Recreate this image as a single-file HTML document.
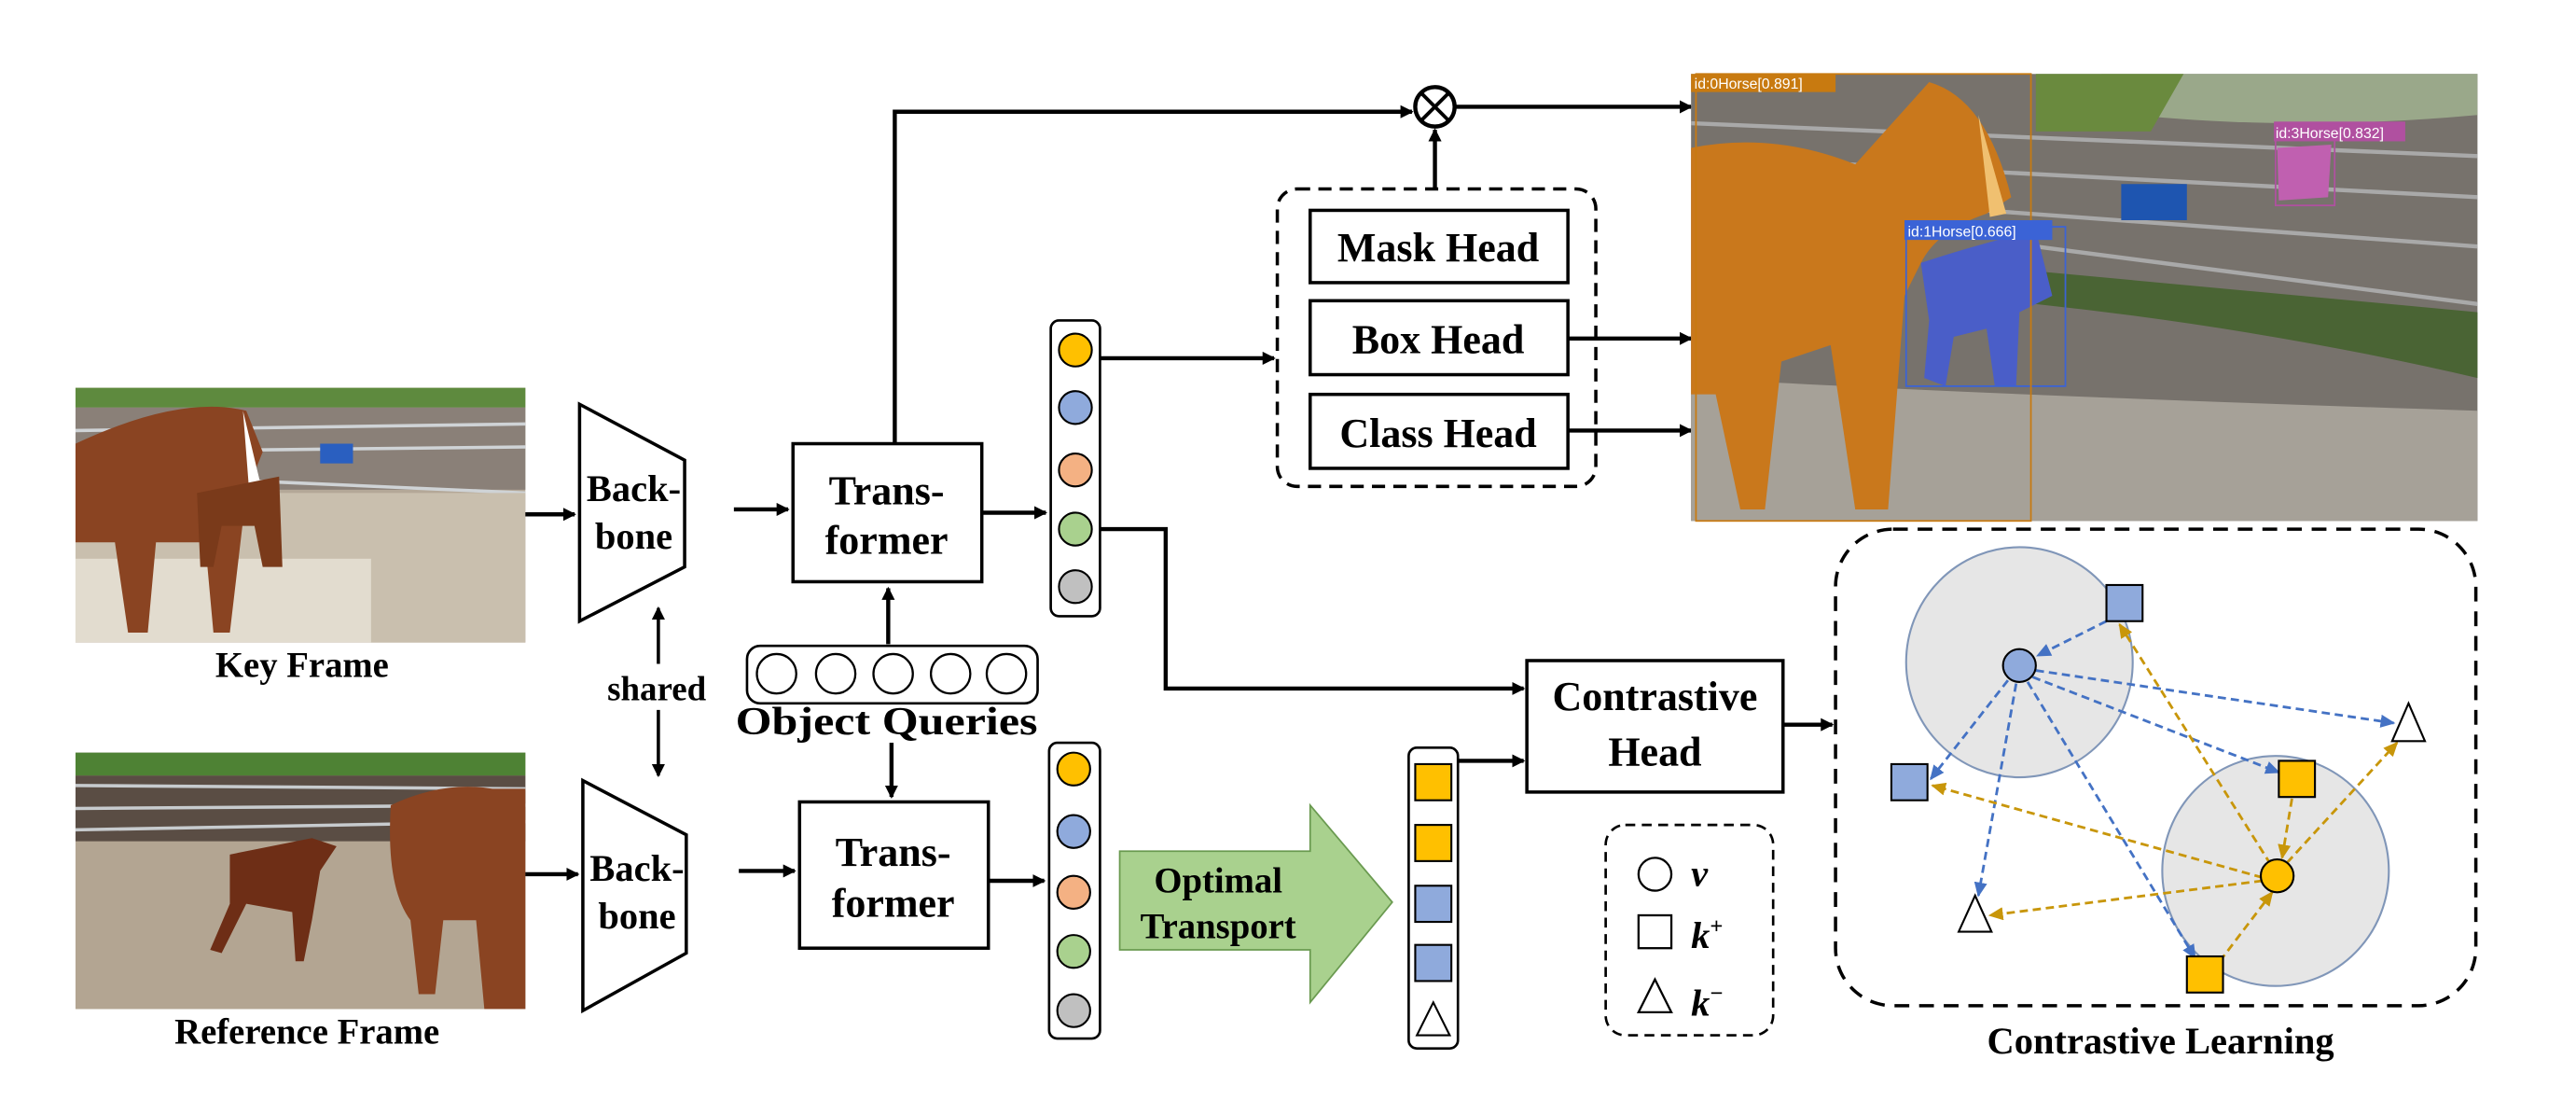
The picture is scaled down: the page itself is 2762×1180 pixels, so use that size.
<!DOCTYPE html>
<html><head><meta charset="utf-8"><style>
html,body{margin:0;padding:0;background:#fff;}
svg{display:block;}
text{font-family:"Liberation Serif",serif;font-weight:bold;fill:#000;}
</style></head><body>
<svg width="2762" height="1180" viewBox="0 0 1569 670" preserveAspectRatio="none" xmlns="http://www.w3.org/2000/svg">
<defs>
<marker id="ah" markerWidth="8" markerHeight="8" refX="7" refY="4" orient="auto" markerUnits="userSpaceOnUse"><path d="M0,0 L8,4 L0,8 Z" fill="#000"/></marker>
<marker id="bh" markerWidth="9" markerHeight="8" refX="8" refY="4" orient="auto" markerUnits="userSpaceOnUse"><path d="M0,0 L9,4 L0,8 Z" fill="#4472c4"/></marker>
<marker id="oh" markerWidth="9" markerHeight="8" refX="8" refY="4" orient="auto" markerUnits="userSpaceOnUse"><path d="M0,0 L9,4 L0,8 Z" fill="#c8960a"/></marker>
</defs>

<!-- Key frame photo -->
<g>
<rect x="46" y="236" width="274" height="155" fill="#b4a898"/>
<rect x="46" y="236" width="274" height="12" fill="#5e8a3e"/>
<rect x="46" y="248" width="274" height="50" fill="#8a8078"/>
<g stroke="#cfd3d6" stroke-width="2"><line x1="46" y1="262" x2="320" y2="258"/><line x1="46" y1="275" x2="320" y2="272"/><line x1="46" y1="288" x2="320" y2="300"/></g>
<rect x="46" y="300" width="274" height="91" fill="#c9bfae"/>
<rect x="46" y="340" width="180" height="51" fill="#e2dccf"/>
<rect x="195" y="270" width="20" height="12" fill="#2a5fc0"/>
<path d="M46,270 Q110,240 150,250 L160,275 L150,300 L140,385 L130,385 L125,330 L95,330 L90,385 L78,385 L70,330 L46,330 Z" fill="#8a4422"/>
<path d="M148,250 L160,300 L152,302 Z" fill="#fff"/>
<path d="M120,300 L170,290 L172,345 L160,345 L155,320 L135,320 L130,345 L122,345 Z" fill="#7a3a1a"/>
</g>
<text x="184" y="412" font-size="22" text-anchor="middle">Key Frame</text>

<!-- Reference frame photo -->
<g>
<rect x="46" y="458" width="274" height="156" fill="#a79a88"/>
<rect x="46" y="458" width="274" height="14" fill="#4e8234"/>
<rect x="46" y="472" width="274" height="40" fill="#5a4d44"/>
<g stroke="#c7cbce" stroke-width="2"><line x1="46" y1="478" x2="320" y2="480"/><line x1="46" y1="492" x2="320" y2="490"/><line x1="46" y1="505" x2="320" y2="500"/></g>
<rect x="46" y="512" width="274" height="102" fill="#b3a592"/>
<path d="M238,490 Q270,475 300,480 L320,480 L320,614 L295,614 L290,560 L270,560 L265,605 L255,605 L250,560 Q235,540 238,490 Z" fill="#8a4422"/>
<path d="M140,520 L190,510 L205,515 L195,530 L190,560 L185,585 L180,585 L178,555 L150,550 L135,580 L128,578 L140,550 Z" fill="#6e2e16"/>
</g>
<text x="187" y="635" font-size="22" text-anchor="middle">Reference Frame</text>

<!-- Backbones -->
<path d="M353,246 L417,280 L417,345 L353,378 Z" fill="#fff" stroke="#000" stroke-width="2"/>
<text x="386" y="305" font-size="23" text-anchor="middle">Back-</text>
<text x="386" y="334" font-size="23" text-anchor="middle">bone</text>
<path d="M355,475 L418,508 L418,580 L355,615 Z" fill="#fff" stroke="#000" stroke-width="2"/>
<text x="388" y="536" font-size="23" text-anchor="middle">Back-</text>
<text x="388" y="565" font-size="23" text-anchor="middle">bone</text>
<text x="400" y="426" font-size="21" text-anchor="middle">shared</text>
<line x1="401" y1="404" x2="401" y2="370" stroke="#000" stroke-width="2" marker-end="url(#ah)"/>
<line x1="401" y1="432" x2="401" y2="472" stroke="#000" stroke-width="2" marker-end="url(#ah)"/>

<line x1="320" y1="313" x2="350" y2="313" stroke="#000" stroke-width="2.5" marker-end="url(#ah)"/>
<line x1="320" y1="532" x2="352" y2="532" stroke="#000" stroke-width="2.5" marker-end="url(#ah)"/>
<line x1="447" y1="310" x2="480" y2="310" stroke="#000" stroke-width="2.5" marker-end="url(#ah)"/>
<line x1="450" y1="530" x2="484" y2="530" stroke="#000" stroke-width="2.5" marker-end="url(#ah)"/>

<!-- Transformers -->
<rect x="483" y="270" width="115" height="84" fill="#fff" stroke="#000" stroke-width="2"/>
<text x="540" y="307" font-size="25" text-anchor="middle">Trans-</text>
<text x="540" y="337" font-size="25" text-anchor="middle">former</text>
<rect x="487" y="488" width="115" height="89" fill="#fff" stroke="#000" stroke-width="2"/>
<text x="544" y="527" font-size="25" text-anchor="middle">Trans-</text>
<text x="544" y="558" font-size="25" text-anchor="middle">former</text>

<!-- object queries -->
<rect x="455" y="393" width="177" height="35" rx="8" fill="#fff" stroke="#000" stroke-width="1.5"/>
<g fill="#fff" stroke="#000" stroke-width="1.3">
<circle cx="473" cy="410" r="12"/><circle cx="509" cy="410" r="12"/><circle cx="544" cy="410" r="12"/><circle cx="579" cy="410" r="12"/><circle cx="613" cy="410" r="12"/></g>
<text x="540" y="447" font-size="24" text-anchor="middle" textLength="184" lengthAdjust="spacingAndGlyphs">Object Queries</text>
<line x1="541" y1="392" x2="541" y2="358" stroke="#000" stroke-width="2.5" marker-end="url(#ah)"/>
<line x1="543" y1="452" x2="543" y2="485" stroke="#000" stroke-width="2.5" marker-end="url(#ah)"/>

<!-- columns -->
<line x1="598" y1="312" x2="637" y2="312" stroke="#000" stroke-width="2.5" marker-end="url(#ah)"/>
<line x1="602" y1="536" x2="636" y2="536" stroke="#000" stroke-width="2.5" marker-end="url(#ah)"/>
<rect x="640" y="195" width="30" height="180" rx="5" fill="#fff" stroke="#000" stroke-width="1.5"/>
<g stroke="#000" stroke-width="1.2">
<circle cx="655" cy="213" r="10" fill="#ffc000"/><circle cx="655" cy="248" r="10" fill="#8faadc"/><circle cx="655" cy="286" r="10" fill="#f4b183"/><circle cx="655" cy="322" r="10" fill="#a9d18e"/><circle cx="655" cy="357" r="10" fill="#c0c0c0"/></g>
<rect x="639" y="452" width="31" height="180" rx="5" fill="#fff" stroke="#000" stroke-width="1.5"/>
<g stroke="#000" stroke-width="1.2">
<circle cx="654" cy="468" r="10" fill="#ffc000"/><circle cx="654" cy="506" r="10" fill="#8faadc"/><circle cx="654" cy="543" r="10" fill="#f4b183"/><circle cx="654" cy="579" r="10" fill="#a9d18e"/><circle cx="654" cy="615" r="10" fill="#c0c0c0"/></g>

<!-- top path -->
<polyline points="545,270 545,68 860,68" fill="none" stroke="#000" stroke-width="2.5" marker-end="url(#ah)"/>
<circle cx="874" cy="65" r="12" fill="#fff" stroke="#000" stroke-width="2.5"/>
<line x1="866" y1="57" x2="882" y2="73" stroke="#000" stroke-width="2.2"/><line x1="882" y1="57" x2="866" y2="73" stroke="#000" stroke-width="2.2"/>
<line x1="886" y1="65" x2="1030" y2="65" stroke="#000" stroke-width="2.5" marker-end="url(#ah)"/>
<line x1="874" y1="115" x2="874" y2="79" stroke="#000" stroke-width="2.5" marker-end="url(#ah)"/>

<!-- heads -->
<rect x="778" y="115" width="194" height="181" rx="12" fill="none" stroke="#000" stroke-width="2" stroke-dasharray="8,5"/>
<rect x="798" y="128" width="157" height="44" fill="#fff" stroke="#000" stroke-width="2"/>
<text x="876" y="159" font-size="25" text-anchor="middle">Mask Head</text>
<rect x="798" y="183" width="157" height="45" fill="#fff" stroke="#000" stroke-width="2"/>
<text x="876" y="215" font-size="25" text-anchor="middle">Box Head</text>
<rect x="798" y="240" width="157" height="45" fill="#fff" stroke="#000" stroke-width="2"/>
<text x="876" y="272" font-size="25" text-anchor="middle">Class Head</text>
<line x1="670" y1="218" x2="776" y2="218" stroke="#000" stroke-width="2.5" marker-end="url(#ah)"/>
<line x1="955" y1="206" x2="1030" y2="206" stroke="#000" stroke-width="2.5" marker-end="url(#ah)"/>
<line x1="955" y1="262" x2="1030" y2="262" stroke="#000" stroke-width="2.5" marker-end="url(#ah)"/>

<!-- detection image -->
<g>
<rect x="1030" y="45" width="479" height="272" fill="#77726c"/>
<path d="M1280,45 L1509,45 L1509,70 Q1400,80 1300,70 Z" fill="#9aa88a"/>
<path d="M1240,45 L1330,45 L1310,80 L1240,80 Z" fill="#6a8a3e"/>
<g stroke="#a9a9a9" stroke-width="2.5"><line x1="1030" y1="75" x2="1509" y2="95"/><line x1="1030" y1="95" x2="1509" y2="120"/><line x1="1030" y1="115" x2="1509" y2="150"/><line x1="1240" y1="150" x2="1509" y2="185"/></g>
<path d="M1240,165 L1509,190 L1509,230 Q1380,200 1240,185 Z" fill="#4a6434"/>
<path d="M1030,230 Q1200,240 1509,250 L1509,317 L1030,317 Z" fill="#a6a198"/>
<rect x="1292" y="112" width="40" height="22" fill="#1e55b0"/>
<path d="M1030,90 Q1080,80 1130,100 L1175,50 Q1210,60 1225,120 L1210,130 Q1180,140 1170,160 L1160,180 L1150,310 L1130,310 L1115,210 L1085,220 L1075,310 L1060,310 L1045,240 L1030,240 Z" fill="#c9781c"/>
<path d="M1205,70 L1222,130 L1212,132 Z" fill="#f0c070"/>
<path d="M1170,160 Q1200,150 1240,140 L1250,180 L1230,190 L1228,235 L1215,235 L1210,200 L1190,205 L1185,235 L1172,230 L1175,195 Z" fill="#4a5ec8"/>
<rect x="1161" y="138" width="97" height="97" fill="none" stroke="#3b63d6" stroke-width="1"/>
<rect x="1033" y="45" width="204" height="272" fill="none" stroke="#c87a10" stroke-width="1"/>
<path d="M1387,90 L1420,88 L1418,120 L1388,122 Z" fill="#c060b0"/>
<rect x="1386" y="83" width="36" height="42" fill="none" stroke="#b050a0" stroke-width="1"/>
<rect x="1030" y="45" width="88" height="11" fill="#c87a10"/>
<text x="1032" y="54" font-size="9" style="font-family:'Liberation Sans',sans-serif;font-weight:normal;fill:#fff">id:0Horse[0.891]</text>
<rect x="1160" y="134" width="90" height="12" fill="#3b63d6"/>
<text x="1162" y="144" font-size="9" style="font-family:'Liberation Sans',sans-serif;font-weight:normal;fill:#fff">id:1Horse[0.666]</text>
<rect x="1385" y="74" width="80" height="12" fill="#b050a0"/>
<text x="1386" y="84" font-size="9" style="font-family:'Liberation Sans',sans-serif;font-weight:normal;fill:#fff">id:3Horse[0.832]</text>
</g>

<!-- path to contrastive head -->
<polyline points="670,322 710,322 710,419 928,419" fill="none" stroke="#000" stroke-width="2.5" marker-end="url(#ah)"/>
<rect x="930" y="402" width="156" height="80" fill="#fff" stroke="#000" stroke-width="2"/>
<text x="1008" y="432" font-size="25" text-anchor="middle">Contrastive</text>
<text x="1008" y="466" font-size="25" text-anchor="middle">Head</text>
<line x1="888" y1="463" x2="928" y2="463" stroke="#000" stroke-width="2.5" marker-end="url(#ah)"/>
<line x1="1086" y1="441" x2="1116" y2="441" stroke="#000" stroke-width="2.5" marker-end="url(#ah)"/>

<!-- Optimal transport arrow -->
<path d="M682,518 L798,518 L798,490 L848,549 L798,610 L798,578 L682,578 Z" fill="#a9d18e" stroke="#6a9a50" stroke-width="1"/>
<text x="742" y="543" font-size="22" text-anchor="middle">Optimal</text>
<text x="742" y="571" font-size="22" text-anchor="middle">Transport</text>

<!-- small column -->
<rect x="858" y="455" width="30" height="183" rx="5" fill="#fff" stroke="#000" stroke-width="1.5"/>
<g stroke="#000" stroke-width="1.2">
<rect x="862" y="465" width="22" height="22" fill="#ffc000"/><rect x="862" y="502" width="22" height="22" fill="#ffc000"/>
<rect x="862" y="539" width="22" height="22" fill="#8faadc"/><rect x="862" y="575" width="22" height="22" fill="#8faadc"/>
<path d="M873,610 L883,630 L863,630 Z" fill="#fff"/></g>

<!-- legend -->
<rect x="978" y="502" width="102" height="128" rx="12" fill="none" stroke="#000" stroke-width="1.5" stroke-dasharray="6,4"/>
<circle cx="1008" cy="532" r="10" fill="#fff" stroke="#000" stroke-width="1.3"/>
<text x="1030" y="539" font-size="23" font-style="italic">v</text>
<rect x="998" y="557" width="20" height="20" fill="#fff" stroke="#000" stroke-width="1.3"/>
<text x="1030" y="577" font-size="23" font-style="italic">k<tspan font-size="14" dy="-9" font-style="normal">+</tspan></text>
<path d="M1008,596 L1018,616 L998,616 Z" fill="#fff" stroke="#000" stroke-width="1.3"/>
<text x="1030" y="618" font-size="23" font-style="italic">k<tspan font-size="14" dy="-9" font-style="normal">−</tspan></text>

<!-- contrastive learning -->
<rect x="1118" y="322" width="390" height="290" rx="35" fill="none" stroke="#000" stroke-width="2" stroke-dasharray="9,6"/>
<text x="1316" y="641" font-size="23" text-anchor="middle">Contrastive Learning</text>
<ellipse cx="1230" cy="403" rx="69" ry="70" fill="#e6e6e6" stroke="#8096b8" stroke-width="1.2"/>
<ellipse cx="1386" cy="530" rx="69" ry="70" fill="#e6e6e6" stroke="#8096b8" stroke-width="1.2"/>
<g fill="none" stroke-width="1.6" stroke-dasharray="5,3">
<g stroke="#4472c4">
<line x1="1283" y1="378" x2="1241" y2="399" marker-end="url(#bh)"/>
<line x1="1240" y1="408" x2="1458" y2="440" marker-end="url(#bh)"/>
<line x1="1238" y1="412" x2="1388" y2="470" marker-end="url(#bh)"/>
<line x1="1223" y1="414" x2="1176" y2="474" marker-end="url(#bh)"/>
<line x1="1228" y1="416" x2="1205" y2="545" marker-end="url(#bh)"/>
<line x1="1235" y1="415" x2="1337" y2="583" marker-end="url(#bh)"/>
</g>
<g stroke="#c8960a">
<line x1="1383" y1="526" x2="1291" y2="380" marker-end="url(#oh)"/>
<line x1="1378" y1="534" x2="1177" y2="478" marker-end="url(#oh)"/>
<line x1="1378" y1="536" x2="1212" y2="557" marker-end="url(#oh)"/>
<line x1="1393" y1="525" x2="1460" y2="452" marker-end="url(#oh)"/>
<line x1="1396" y1="486" x2="1390" y2="522" marker-end="url(#oh)"/>
<line x1="1352" y1="585" x2="1384" y2="543" marker-end="url(#oh)"/>
</g></g>
<g stroke="#000" stroke-width="1.2">
<circle cx="1230" cy="405" r="10" fill="#8faadc"/>
<circle cx="1387" cy="533" r="10" fill="#ffc000"/>
<rect x="1283" y="356" width="22" height="22" fill="#8faadc"/>
<rect x="1152" y="465" width="22" height="22" fill="#8faadc"/>
<rect x="1388" y="463" width="22" height="22" fill="#ffc000"/>
<rect x="1332" y="582" width="22" height="22" fill="#ffc000"/>
<path d="M1467,428 L1477,451 L1457,451 Z" fill="#fff"/>
<path d="M1203,545 L1213,567 L1193,567 Z" fill="#fff"/>
</g>
</svg>
</body></html>
